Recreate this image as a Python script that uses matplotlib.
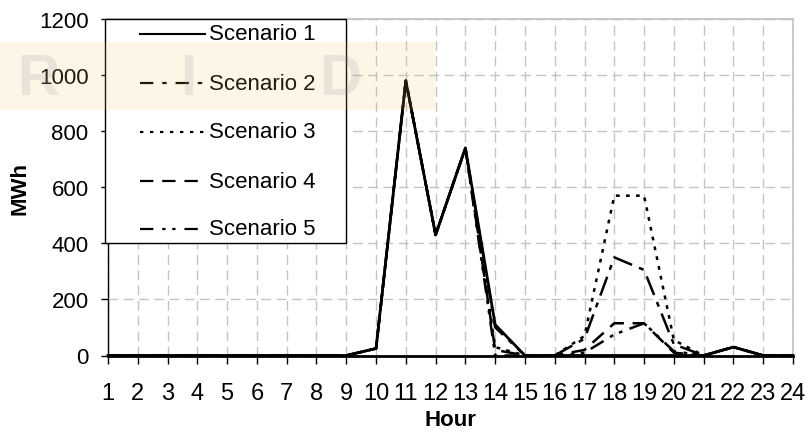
import matplotlib.pyplot as plt
from matplotlib.lines import Line2D
from matplotlib.patches import Rectangle

plt.rcParams['font.family'] = ['Liberation Sans', 'DejaVu Sans']

hours = list(range(1, 25))
scenario_1 = [0, 0, 0, 0, 0, 0, 0, 0, 0, 25, 980, 430, 740, 110, 0, 0, 0, 0, 0, 0, 0, 30, 0, 0]
scenario_2 = [0, 0, 0, 0, 0, 0, 0, 0, 0, 25, 980, 430, 740, 100, 0, 0, 60, 350, 305, 40, 0, 30, 0, 0]
scenario_3 = [0, 0, 0, 0, 0, 0, 0, 0, 0, 25, 980, 430, 740, 30, 0, 0, 70, 570, 570, 55, 0, 30, 0, 0]
scenario_4 = [0, 0, 0, 0, 0, 0, 0, 0, 0, 25, 980, 430, 740, 20, 0, 0, 20, 115, 115, 10, 0, 30, 0, 0]
scenario_5 = [0, 0, 0, 0, 0, 0, 0, 0, 0, 25, 980, 430, 740, 0, 0, 0, 10, 75, 115, 15, 0, 30, 0, 0]
names = ['Scenario 1', 'Scenario 2', 'Scenario 3', 'Scenario 4', 'Scenario 5']

styles = [
    dict(linestyle='-', linewidth=2.0),
    dict(linestyle=(0, (8, 3, 2, 3)), linewidth=1.8),
    dict(linestyle=(0, (1.5, 2.5)), linewidth=1.8),
    dict(linestyle=(0, (6, 3.5)), linewidth=1.8),
    dict(linestyle=(0, (6, 3, 1.5, 2.5, 1.5, 3)), linewidth=1.8),
]
legend_styles = [
    dict(linestyle='-', linewidth=1.5),
    dict(linestyle=(0, (6, 4, 2, 4)), linewidth=1.6),
    dict(linestyle=(0, (1.5, 3)), linewidth=1.6),
    dict(linestyle=(0, (6, 4)), linewidth=1.6),
    dict(linestyle=(0, (6, 4, 1.5, 3, 1.5, 4)), linewidth=1.6),
]

W, H = 810, 439
fig = plt.figure(figsize=(W / 100, H / 100), dpi=100)
ax = fig.add_axes([108 / W, 1 - 356.5 / H, (793 - 108) / W, (356.5 - 20) / H])

series = [scenario_1, scenario_2, scenario_3, scenario_4, scenario_5]
for vals, st in zip(series, styles):
    ax.plot(hours, vals, color='black', clip_on=False, zorder=3, **st)

ax.set_xlim(1, 24)
ax.set_ylim(0, 1200)
ax.set_xticks(hours)
ax.set_xticklabels([str(h) for h in hours])
ax.set_yticks(range(0, 1201, 200))
ax.tick_params(axis='x', direction='out', length=6, width=1, pad=13, labelsize=17)
ax.tick_params(axis='y', direction='out', length=5, width=1, pad=9, labelsize=16)

ax.grid(True, color='#c4c4c4', linestyle=(0, (7, 4)), linewidth=1)
ax.set_axisbelow(True)
for s in ['top', 'right']:
    ax.spines[s].set_color('#c0c0c0')
    ax.spines[s].set_linewidth(1.2)
ax.spines['left'].set_linewidth(1)
ax.spines['bottom'].set_linewidth(2)

ax.set_xlabel('Hour', fontsize=16, fontweight='bold', labelpad=4)
ax.set_ylabel('MWh', fontsize=16, fontweight='bold', labelpad=6)


def fx(px):
    return px / W


def fy(py):
    return 1 - py / H


# legend box with a row per scenario
fig.add_artist(Rectangle((fx(105), fy(244)), fx(346) - fx(105), fy(20) - fy(244),
                         transform=fig.transFigure, facecolor='white',
                         edgecolor='black', linewidth=1, zorder=5))
rows = [35, 84, 133, 182, 230]
for st, name, ry in zip(legend_styles, names, rows):
    fig.add_artist(Line2D([fx(140), fx(205)], [fy(ry), fy(ry)], transform=fig.transFigure,
                          color='black', zorder=6, **st))
    fig.text(fx(209), fy(ry), name, fontsize=16, va='center', ha='left', zorder=6)

# faint background logo
fig.add_artist(Rectangle((0, fy(111)), fx(435), fy(43) - fy(111), transform=fig.transFigure,
                         facecolor='#f5c050', alpha=0.14, edgecolor='none', zorder=10))
for letter, px in [('R', 38), ('I', 188), ('D', 340)]:
    fig.text(fx(px), fy(80), letter, fontsize=42, fontweight='bold', color='#8890a0',
             alpha=0.17, ha='center', va='center', zorder=11)

fig.savefig('out.png', dpi=100)
